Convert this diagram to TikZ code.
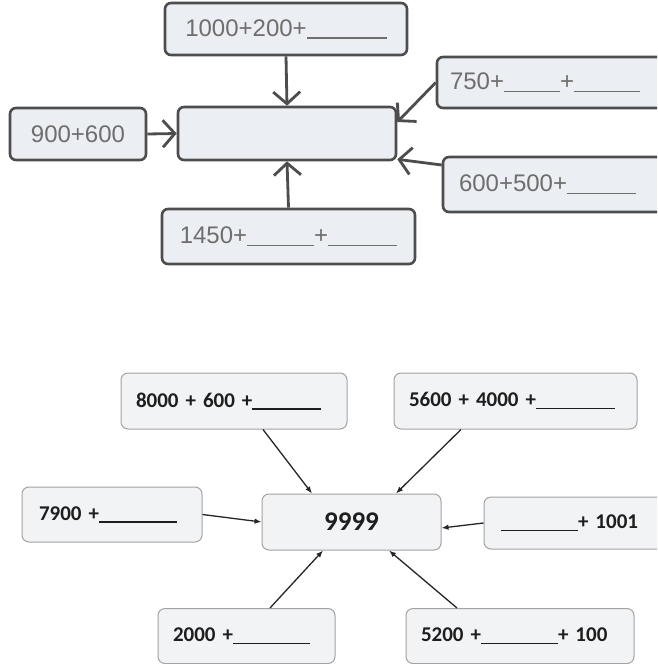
\documentclass[tikz,border=0pt]{standalone}
\usepackage{fontspec}
\setmainfont{Liberation Sans}
\newfontfamily\lowfont{Carlito}
\usepackage{xcolor}
\usetikzlibrary{arrows.meta, positioning, calc}
\definecolor{upedge}{HTML}{4D4D4D}
\definecolor{upfill}{HTML}{EBEEF2}
\definecolor{uptext}{HTML}{6E6E6E}
\definecolor{lowedge}{HTML}{A3A3A3}
\definecolor{lowfill}{HTML}{F2F3F5}
\definecolor{lowtext}{HTML}{1E1E1E}
\newcommand{\fillin}[1]{\rule[-2.5pt]{#1pt}{1.4pt}}
\tikzset{
  sumbox/.style={draw=upedge, fill=upfill, line width=2.6pt, rounded corners=6pt,
                 inner sep=0pt, align=center, text=uptext,
                 font=\fontsize{24}{26}\selectfont},
  sumboxl/.style={sumbox, align=left, inner xsep=#1pt},
  hubbox/.style={sumbox, minimum width=218pt, minimum height=53pt},
  numbox/.style={draw=lowedge, fill=lowfill, line width=1pt, rounded corners=7pt,
                 inner xsep=15pt, inner ysep=0pt, align=left, text=lowtext,
                 font=\lowfont\bfseries\fontsize{21}{23}\selectfont},
  flow/.style={-{Straight Barb[length=12pt, width=27pt]}, line width=2.8pt, draw=upedge},
  flowthin/.style={-{Latex[length=7pt, width=5.5pt]}, line width=1.3pt, draw=black!85},
}
\begin{document}
\begin{tikzpicture}[x=1pt, y=-1pt]
  \useasboundingbox (0,0) rectangle (657,664);
  \fill[white] (0,0) rectangle (657,664);
  \clip (0,0) rectangle (657,664);

  % upper diagram
  \node[hubbox] (ctr) at (287,133.5) {};
  \node[sumbox, minimum width=242pt, minimum height=52pt] (top) at (286,29)
    {1000+200+\fillin{80}};
  \node[sumbox, minimum width=136pt, minimum height=52pt] (lft) at (78,134)
    {900+600};
  \node[sumboxl=13, text width=214pt, minimum height=51pt] (rt) at (557,82.5)
    {750+\fillin{56}+\fillin{66}};
  \node[sumboxl=16, text width=208pt, minimum height=55pt] (rb) at (563,184.5)
    {600+500+\fillin{69}};
  \node[sumbox, minimum width=253pt, minimum height=55pt] (bot) at (288.5,236.5)
    {1450+\fillin{67}+\fillin{69}};
  \draw[flow] (top.south) -- (ctr.north);
  \draw[flow] (bot.north) -- (ctr.south);
  \draw[flow] (lft.east) -- (ctr.west);
  \draw[flow] (rt.west) -- ([yshift=11.5pt]ctr.east);
  \draw[flow] ([yshift=19.5pt]rb.west) -- ([yshift=2pt]ctr.south east);

  % lower diagram
  \node[numbox, text width=149pt, minimum height=56pt, align=center,
        font=\lowfont\bfseries\fontsize{27}{29}\selectfont] (num) at (351.5,522) {9999};
  \node[numbox, text width=196pt, minimum height=56pt] (a) at (234,401)
    {8000 + 600 +\fillin{69}};
  \node[numbox, text width=213pt, minimum height=56pt] (b) at (515.5,401)
    {5600 + 4000 +\fillin{79}};
  \node[numbox, inner xsep=17pt, text width=146pt, minimum height=55pt] (c) at (112,514.5)
    {7900 +\fillin{78}\\[6pt]};
  \node[numbox, inner xsep=17pt, text width=166pt, minimum height=52pt] (d) at (584,523)
    {\fillin{77}+ 1001};
  \node[numbox, text width=147pt, minimum height=55pt] (e) at (246.5,636)
    {2000 +\fillin{77}};
  \node[numbox, text width=198pt, minimum height=55pt] (f) at (520,636)
    {5200 +\fillin{77}+ 100};
  \draw[flowthin] ([xshift=29pt]a.south) -- ([xshift=-39.5pt]num.north);
  \draw[flowthin] ([xshift=-54.5pt]b.south) -- ([xshift=44.5pt]num.north);
  \draw[flowthin] (c.east) -- (num.west);
  \draw[flowthin] (d.west) -- ([yshift=-6pt]num.east);
  \draw[flowthin] ([xshift=23.5pt]e.north) -- ([xshift=-28.5pt]num.south);
  \draw[flowthin] ([xshift=-63pt]f.north) -- ([xshift=37.5pt]num.south);
\end{tikzpicture}
\end{document}
